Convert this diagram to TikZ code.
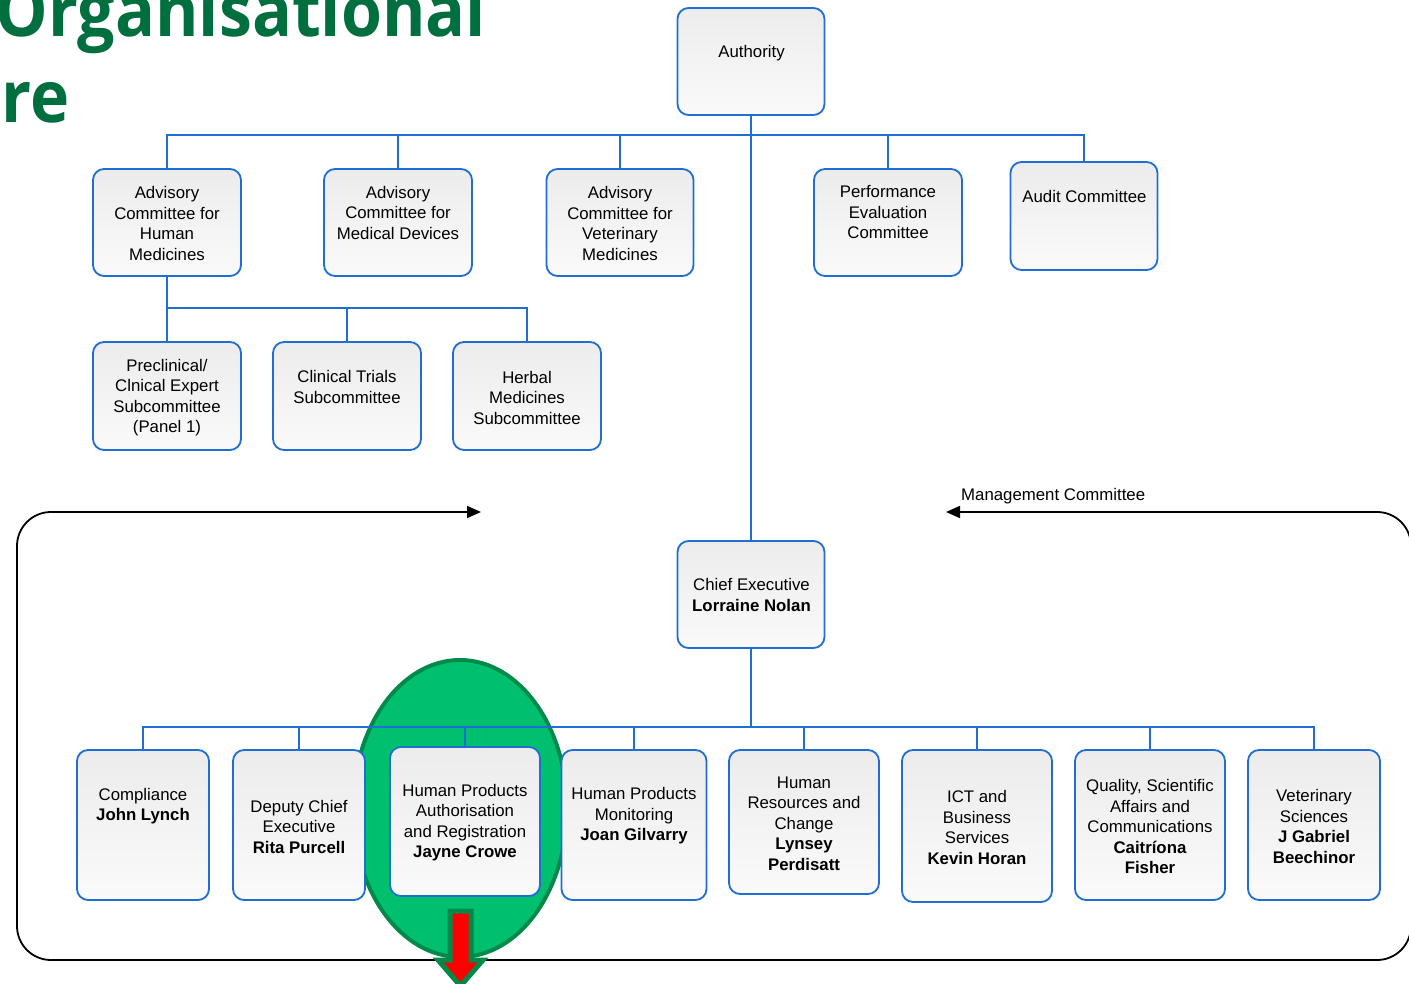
\documentclass[tikz,border=0pt]{standalone}
\usepackage{fontspec}
\setmainfont{Liberation Sans}
\newfontfamily\titlefont[FakeStretch=0.92]{Open Sans}
\usetikzlibrary{arrows.meta}
\definecolor{boxblue}{HTML}{1F6FD2}
\definecolor{titlegreen}{HTML}{006F3F}
\definecolor{leafgreen}{HTML}{00BF6F}
\definecolor{leafdark}{HTML}{008A4A}
\definecolor{boxtop}{HTML}{ECECEC}
\definecolor{boxbot}{HTML}{FAFAFA}
\tikzset{
  box/.style={draw=boxblue, line width=1.8pt, rounded corners=11pt,
    top color=boxtop, bottom color=boxbot, inner sep=0pt},
  lbl/.style={align=center, inner sep=0pt, yshift=-1.5pt, font=\fontsize{16.8}{20.5}\selectfont},
  conn/.style={draw=boxblue, line width=2pt},
  ttl/.style={anchor=base east, inner sep=0pt, text=titlegreen, font=\titlefont\bfseries\fontsize{72}{80}\selectfont},
  mcloop/.style={draw=black, line width=1.8pt, rounded corners=34pt, >={Triangle[length=14pt,width=12pt]}}
}
\begin{document}
\begin{tikzpicture}[x=1pt,y=-1pt]
\useasboundingbox (0,0) rectangle (1409,984);
\clip (0,0) rectangle (1409,984);
\fill[white] (0,0) rectangle (1409,984);

% title
\node[ttl] (title1) at (486,37) {Organisational};
\node[ttl] (title2) at (70,123) {re};

% management committee loop
\coordinate (mr) at (946,512);
\coordinate (c1) at (1411,512);
\coordinate (c2) at (1411,960);
\coordinate (c3) at (17,960);
\coordinate (c4) at (17,512);
\coordinate (ml) at (481,512);
\draw[mcloop, <->] (mr) -- (c1) -- (c2) -- (c3) -- (c4) -- (ml);
\node[lbl, anchor=west] (mctext) at (961,495) {Management Committee};

% green highlight
\draw[fill=leafgreen, draw=leafdark, line width=4pt] (460,808.5) ellipse [x radius=107, y radius=148.5];
\draw[fill=red, draw=leafdark, line width=5pt, line join=miter]
  (450,911) -- (471,911) -- (471,960) -- (483,960) -- (460.5,986) -- (438,960) -- (450,960) -- cycle;

% boxes
\node[box, minimum width=147pt, minimum height=107pt] (auth) at (751,61.5) {};
\node[box, minimum width=148pt, minimum height=107pt] (advhm) at (167,222.5) {};
\node[box, minimum width=148pt, minimum height=107pt] (advmd) at (398,222.5) {};
\node[box, minimum width=147pt, minimum height=107pt] (advvm) at (620,222.5) {};
\node[box, minimum width=148pt, minimum height=107pt] (perf) at (888,222.5) {};
\node[box, minimum width=147pt, minimum height=108pt] (audit) at (1084,216) {};
\node[box, minimum width=148pt, minimum height=108pt] (precl) at (167,396) {};
\node[box, minimum width=148pt, minimum height=108pt] (clin) at (347,396) {};
\node[box, minimum width=148pt, minimum height=108pt] (herb) at (527,396) {};
\node[box, minimum width=147pt, minimum height=107pt] (chief) at (751,594.5) {};
\node[box, minimum width=132pt, minimum height=150pt] (compl) at (143,825) {};
\node[box, minimum width=132pt, minimum height=150pt] (deput) at (299,825) {};
\node[box, minimum width=150pt, minimum height=149pt] (hpar) at (465,821.5) {};
\node[box, minimum width=145pt, minimum height=150pt] (hpm) at (634,825) {};
\node[box, minimum width=150pt, minimum height=144pt] (hr) at (804,822) {};
\node[box, minimum width=150pt, minimum height=152pt] (ict) at (977,826) {};
\node[box, minimum width=150pt, minimum height=150pt] (qual) at (1150,825) {};
\node[box, minimum width=132pt, minimum height=150pt] (vet) at (1314,825) {};

% connectors
\coordinate (b1) at (751,135);
\coordinate (b2) at (751,727);
\coordinate (b3) at (167,308);
\draw[conn] (auth.south) -- (chief.north);
\draw[conn] (advhm.north) |- (b1) -| (audit.north);
\draw[conn] (advmd.north) -- (advmd.north |- b1);
\draw[conn] (advvm.north) -- (advvm.north |- b1);
\draw[conn] (perf.north) -- (perf.north |- b1);
\draw[conn] (advhm.south) -- (precl.north);
\draw[conn] (b3) -| (herb.north);
\draw[conn] (clin.north) -- (clin.north |- b3);
\draw[conn] (chief.south) -- (b2);
\draw[conn] (compl.north) |- (b2) -| (vet.north);
\draw[conn] (deput.north) -- (deput.north |- b2);
\draw[conn] (hpar.north) -- (hpar.north |- b2);
\draw[conn] (hpm.north) -- (hpm.north |- b2);
\draw[conn] (hr.north) -- (hr.north |- b2);
\draw[conn] (ict.north) -- (ict.north |- b2);
\draw[conn] (qual.north) -- (qual.north |- b2);

% labels
\node[lbl] (auth-t) at (751.5,52) {Authority};
\node[lbl] (advhm-t) at (167,222) {Advisory\\Committee for\\Human\\Medicines};
\node[lbl] (advmd-t) at (398,211) {Advisory\\Committee for\\Medical Devices};
\node[lbl] (advvm-t) at (620,222) {Advisory\\Committee for\\Veterinary\\Medicines};
\node[lbl] (perf-t) at (888,211) {Performance\\Evaluation\\Committee};
\node[lbl] (audit-t) at (1084.5,195) {Audit Committee};
\node[lbl] (precl-t) at (167,396) {Preclinical/\\Clnical Expert\\Subcommittee\\(Panel 1)};
\node[lbl] (clin-t) at (347,385.5) {Clinical Trials\\Subcommittee};
\node[lbl] (herb-t) at (527,396) {Herbal\\Medicines\\Subcommittee};
\node[lbl] (chief-t) at (751.5,593.5) {Chief Executive\\\textbf{Lorraine Nolan}};
\node[lbl] (compl-t) at (143,804.5) {Compliance\\\textbf{John Lynch}};
\node[lbl] (deput-t) at (299,825) {Deputy Chief\\Executive\\\textbf{Rita Purcell}};
\node[lbl] (hpar-t) at (465,821) {Human Products\\Authorisation\\and Registration\\\textbf{Jayne Crowe}};
\node[lbl] (hpm-t) at (634,814.5) {Human Products\\Monitoring\\\textbf{Joan Gilvarry}};
\node[lbl] (hr-t) at (804,822) {Human\\Resources and\\Change\\\textbf{Lynsey}\\\textbf{Perdisatt}};
\node[lbl] (ict-t) at (977,826) {ICT and\\Business\\Services\\\textbf{Kevin Horan}};
\node[lbl] (qual-t) at (1150,825) {Quality, Scientific\\Affairs and\\Communications\\\textbf{Caitríona}\\\textbf{Fisher}};
\node[lbl] (vet-t) at (1314,825) {Veterinary\\Sciences\\\textbf{J Gabriel}\\\textbf{Beechinor}};
\end{tikzpicture}
\end{document}
